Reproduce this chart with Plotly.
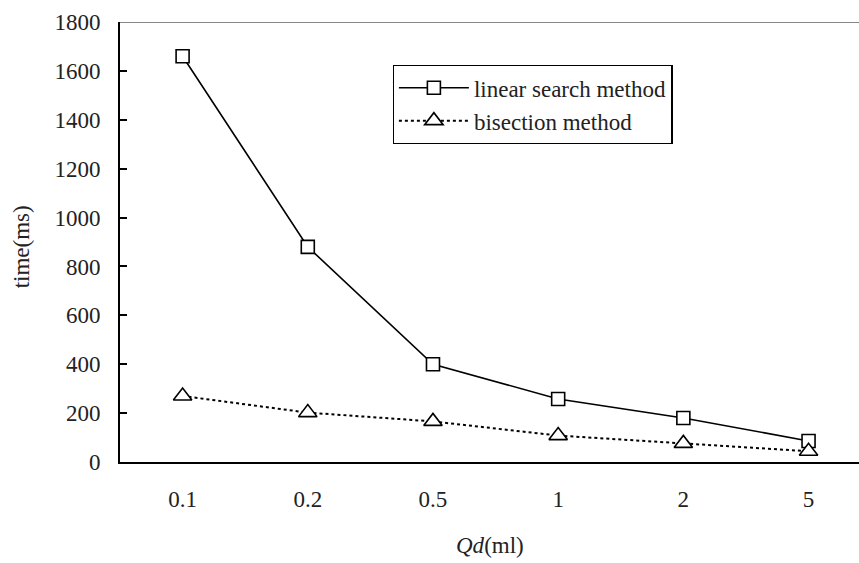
import plotly.graph_objects as go

categories = ["0.1", "0.2", "0.5", "1", "2", "5"]
linear_search = [1660, 880, 400, 258, 180, 86]
bisection = [270, 202, 166, 108, 76, 44]
y_ticks = [0, 200, 400, 600, 800, 1000, 1200, 1400, 1600, 1800]

FONT = "Liberation Serif"
FS = 23

fig = go.Figure()
fig.add_trace(go.Scatter(
    x=categories, y=linear_search, name="linear search method",
    mode="lines+markers",
    line=dict(color="black", width=1.6),
    marker=dict(symbol="square", size=13, color="white",
                line=dict(color="black", width=1.6)),
))
fig.add_trace(go.Scatter(
    x=categories, y=bisection, name="bisection method",
    mode="lines+markers",
    line=dict(color="black", width=2, dash="dot"),
    marker=dict(symbol="triangle-up", size=16, color="white",
                line=dict(color="black", width=1.6)),
))

# top border of plot area (gray line at 1800)
fig.add_shape(type="line", xref="paper", yref="y", x0=0, x1=1, y0=1800, y1=1800,
              line=dict(color="#888888", width=2))

fig.update_layout(
    width=859, height=563,
    margin=dict(l=120, r=0, t=22, b=101),
    paper_bgcolor="white", plot_bgcolor="white",
    font=dict(family=FONT, size=FS, color="#222222"),
    showlegend=True,
    legend=dict(
        x=0.369, y=0.902, xanchor="left", yanchor="top",
        bgcolor="white", bordercolor="black", borderwidth=1.2,
        font=dict(family=FONT, size=FS, color="#222222"),
        itemwidth=70, tracegroupgap=4,
    ),
    xaxis=dict(
        type="category", range=[-0.5, 5.403],
        showline=True, linecolor="black", linewidth=2,
        showgrid=False, zeroline=False, ticks="",
        ticklabelstandoff=15,
        tickfont=dict(family=FONT, size=FS, color="#222222"),
    ),
    yaxis=dict(
        range=[0, 1800], tickvals=y_ticks,
        showline=True, linecolor="black", linewidth=2,
        showgrid=False, zeroline=False,
        ticks="inside", ticklen=7, tickwidth=2, tickcolor="black",
        ticklabelstandoff=13,
        tickfont=dict(family=FONT, size=FS, color="#222222"),
    ),
    annotations=[
        dict(text="time(ms)", xref="paper", yref="paper", x=-0.134, y=0.49,
             xanchor="center", yanchor="middle", textangle=-90, showarrow=False,
             font=dict(family=FONT, size=FS, color="#222222")),
        dict(text="<i>Qd</i>(ml)", xref="paper", yref="paper", x=0.5, y=-0.19,
             xanchor="center", yanchor="middle", showarrow=False,
             font=dict(family=FONT, size=FS, color="#222222")),
    ],
)

fig.write_html("out.html")
